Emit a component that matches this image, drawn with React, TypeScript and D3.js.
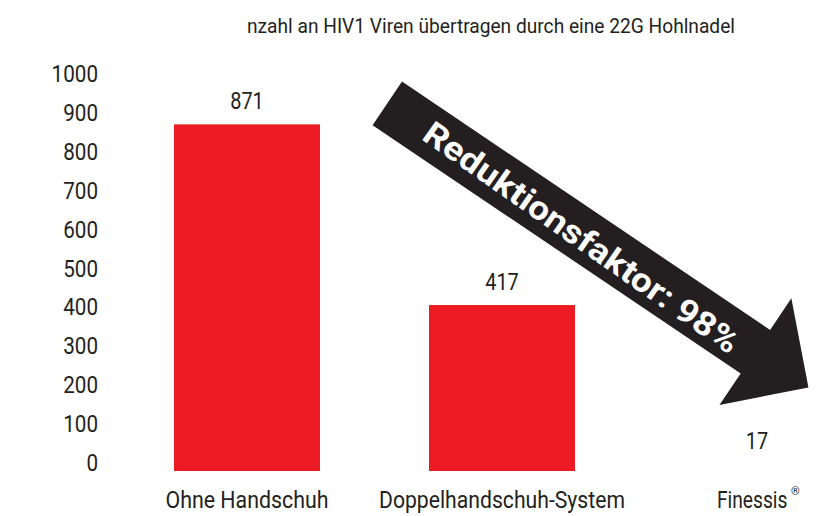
import { useMemo } from "react";
import * as d3 from "d3";

// chart data
const categories = ["Ohne Handschuh", "Doppelhandschuh-System", "Finessis"];
const values = [871, 417, 17];
const barShown = [true, true, false];
const yTicks = [0, 100, 200, 300, 400, 500, 600, 700, 800, 900, 1000];
const title = "nzahl an HIV1 Viren übertragen durch eine 22G Hohlnadel";
const arrowLabel = "Reduktionsfaktor: 98%";

const W = 839;
const H = 516;
const RED = "#ED1C24";
const INK = "#231F20";
const FONT = "Roboto, 'Open Sans', sans-serif";

const App = () => {
  const { x, y, yLabel } = useMemo(() => {
    const x = d3
      .scaleBand()
      .domain(categories)
      .range([174, 830])
      .paddingInner(0.4275)
      .paddingOuter(0);
    const y = d3.scaleLinear().domain([0, 1000]).range([471, 73]);
    // tick labels sit on a slightly tighter spacing than the bars
    const yLabel = d3.scaleLinear().domain([0, 1000]).range([462.5, 73.7]);
    return { x, y, yLabel };
  }, []);

  // arrow shape in its own frame (x along the arrow)
  const shaftLen = 444;
  const shaftHalf = 26.3;
  const headHalf = 64.3;
  const tip = 508;
  const arrowPath = d3.line()([
    [0, -shaftHalf],
    [shaftLen, -shaftHalf],
    [shaftLen, -headHalf],
    [tip, 0],
    [shaftLen, headHalf],
    [shaftLen, shaftHalf],
    [0, shaftHalf],
  ]) + "Z";

  const digitW = 11.6;
  const labelWidths = [163, 246];
  const lastCx = (x(categories[2]) ?? 0) + x.bandwidth() / 2;

  return (
    <svg
      width={W}
      height={H}
      style={{ position: "absolute", left: 0, top: 0, background: "#fff" }}
      fontFamily={FONT}
    >
      {/* title (cut at the left in the original) */}
      <text x={247} y={33} fontSize={20} fill={INK} textLength={488} lengthAdjust="spacingAndGlyphs">
        {title}
      </text>

      {/* y tick labels */}
      {yTicks.map((t) => (
        <text
          key={t}
          x={98}
          y={yLabel(t) + 8.5}
          textAnchor="end"
          fontSize={23.5}
          fill={INK}
          textLength={String(t).length * digitW}
          lengthAdjust="spacingAndGlyphs"
        >
          {t}
        </text>
      ))}

      {/* bars */}
      {categories.map((c, i) =>
        barShown[i] ? (
          <rect
            key={c}
            x={x(c)}
            y={y(values[i])}
            width={x.bandwidth()}
            height={y(0) - y(values[i])}
            fill={RED}
          />
        ) : null
      )}

      {/* value labels */}
      {categories.map((c, i) => (
        <text
          key={c}
          x={(x(c) ?? 0) + x.bandwidth() / 2}
          y={y(values[i]) - 15}
          textAnchor="middle"
          fontSize={23}
          fill={INK}
          textLength={String(values[i]).length * 11.2}
          lengthAdjust="spacingAndGlyphs"
        >
          {values[i]}
        </text>
      ))}

      {/* category labels */}
      {categories.slice(0, 2).map((c, i) => (
        <text
          key={c}
          x={(x(c) ?? 0) + x.bandwidth() / 2}
          y={508}
          textAnchor="middle"
          fontSize={24}
          fill={INK}
          textLength={labelWidths[i]}
          lengthAdjust="spacingAndGlyphs"
        >
          {c}
        </text>
      ))}
      {/* last label squeezed with a transform so its box stays narrow */}
      <g transform={`translate(${lastCx - 40},508) scale(0.8,1)`}>
        <text x={0} y={0} fontSize={24} fill={INK}>
          {categories[2]}
        </text>
      </g>
      <text x={lastCx + 34} y={495} fontSize={11} fill={INK}>
        ®
      </text>

      {/* reduction arrow */}
      <g transform="translate(387.3,103.4) rotate(34)">
        <path d={arrowPath} fill={INK} />
        <text
          x={236}
          y={14}
          transform="rotate(1,236,3)"
          textAnchor="middle"
          fontSize={33}
          fontWeight="bold"
          fill="#fff"
          textLength={377}
          lengthAdjust="spacingAndGlyphs"
        >
          {arrowLabel}
        </text>
      </g>
    </svg>
  );
};

export default App;
